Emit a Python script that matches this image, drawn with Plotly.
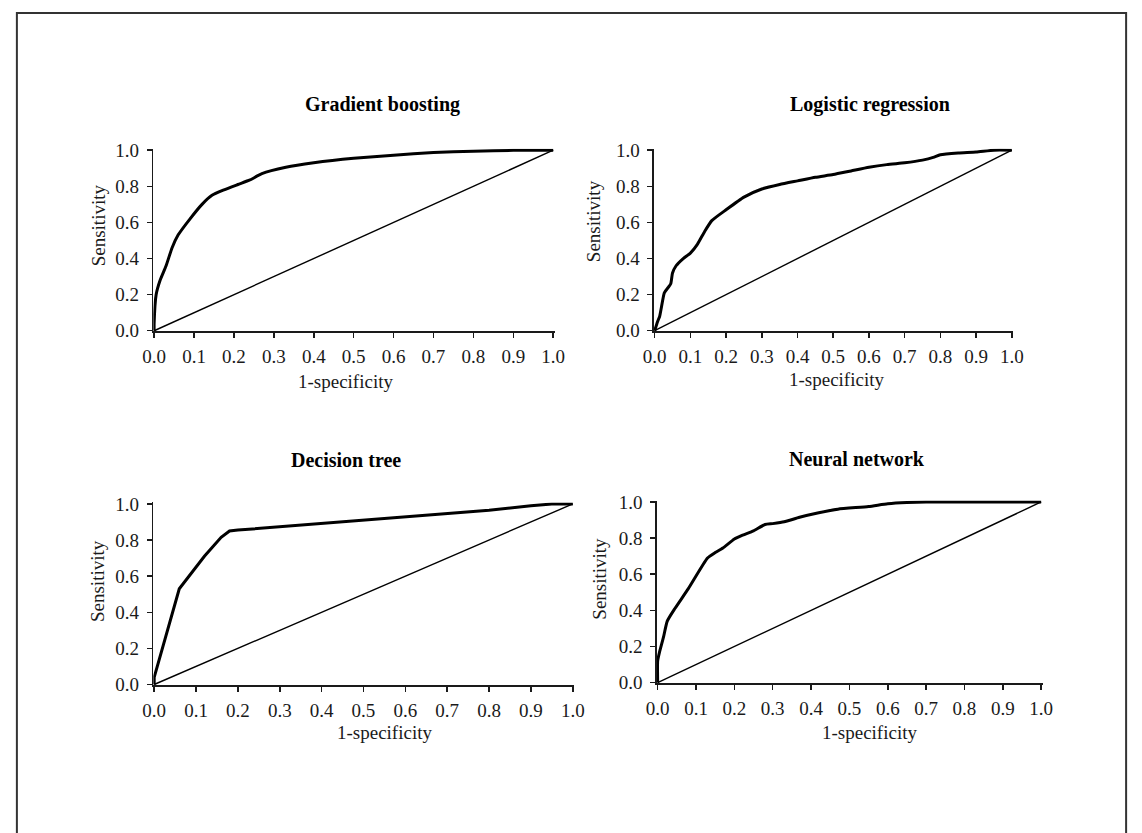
import plotly.graph_objects as go

# ---------------- data ----------------
gb_fpr = [0, 0, 0.005, 0.015, 0.03, 0.045, 0.06, 0.09, 0.12, 0.145, 0.175, 0.21, 0.24, 0.27, 0.33, 0.4, 0.5, 0.6, 0.7, 0.8, 0.9, 1.0]
gb_tpr = [0, 0.04, 0.2, 0.28, 0.36, 0.46, 0.53, 0.62, 0.70, 0.75, 0.78, 0.81, 0.835, 0.87, 0.905, 0.93, 0.955, 0.972, 0.987, 0.994, 0.999, 1.0]

lr_fpr = [0, 0.008, 0.014, 0.018, 0.027, 0.038, 0.045, 0.05, 0.06, 0.08, 0.1, 0.12, 0.14, 0.16, 0.2, 0.25, 0.3, 0.35, 0.4, 0.45, 0.5, 0.55, 0.6, 0.65, 0.7, 0.75, 0.78, 0.8, 0.85, 0.9, 0.95, 1.0]
lr_tpr = [0, 0.05, 0.08, 0.12, 0.21, 0.24, 0.26, 0.32, 0.36, 0.40, 0.43, 0.48, 0.55, 0.61, 0.67, 0.74, 0.785, 0.81, 0.83, 0.85, 0.865, 0.885, 0.905, 0.92, 0.93, 0.945, 0.96, 0.975, 0.985, 0.99, 1.0, 1.0]

dt_fpr = [0, 0, 0.06, 0.12, 0.16, 0.18, 0.2, 0.5, 0.8, 0.9, 0.95, 1.0]
dt_tpr = [0, 0.04, 0.53, 0.71, 0.815, 0.85, 0.855, 0.91, 0.965, 0.99, 1.0, 1.0]

nn_fpr = [0, 0, 0.005, 0.015, 0.025, 0.045, 0.08, 0.13, 0.15, 0.17, 0.2, 0.22, 0.25, 0.28, 0.3, 0.33, 0.37, 0.42, 0.47, 0.55, 0.6, 0.65, 0.7, 0.8, 0.9, 1.0]
nn_tpr = [0, 0.12, 0.17, 0.25, 0.34, 0.41, 0.52, 0.69, 0.72, 0.745, 0.795, 0.815, 0.84, 0.875, 0.88, 0.89, 0.915, 0.94, 0.96, 0.975, 0.99, 0.997, 1.0, 1.0, 1.0, 1.0]

ref_line = [0, 1]
titles = ["Gradient boosting", "Logistic regression", "Decision tree", "Neural network"]
x_title = "1-specificity"
y_title = "Sensitivity"
x_ticks = [0.0, 0.1, 0.2, 0.3, 0.4, 0.5, 0.6, 0.7, 0.8, 0.9, 1.0]
y_ticks = [0.0, 0.2, 0.4, 0.6, 0.8, 1.0]

# ---------------- layout helpers ----------------
W, H = 1142, 833
FONT = "Liberation Serif"
INK = "#1a1a1a"

def px_x(v):
    return v / W

def px_y(v):
    return 1 - v / H

# panel pixel boxes: (x0, x1, ytop, ybottom)
panels = [
    (145, 554, 143, 330),
    (655, 1021, 143, 330),
    (145, 574, 505, 692),
    (658, 1051, 503, 690),
]
series = [(gb_fpr, gb_tpr), (lr_fpr, lr_tpr), (dt_fpr, dt_tpr), (nn_fpr, nn_tpr)]
title_pos = [(378, 98), (875, 98), (341, 462), (862, 460)]
ylab_pos = [(90, 221), (593, 217), (88, 585), (600, 583)]
xlab_pos = [(341, 381), (841, 379), (380, 740), (875, 740)]

fig = go.Figure()
layout = dict(
    width=W, height=H, autosize=False,
    margin=dict(l=0, r=0, t=0, b=0),
    paper_bgcolor="white", plot_bgcolor="white",
    showlegend=False,
    font=dict(family=FONT, size=19, color=INK),
)

annotations = []
for i, ((x0, x1, yt, yb), (fx, fy)) in enumerate(zip(panels, series)):
    n = i + 1
    xa = "x" if n == 1 else f"x{n}"
    ya = "y" if n == 1 else f"y{n}"
    fig.add_trace(go.Scatter(x=ref_line, y=ref_line, mode="lines",
                             line=dict(color="black", width=1.4),
                             xaxis=xa, yaxis=ya, hoverinfo="skip"))
    shape = "linear" if i == 2 else "spline"
    fig.add_trace(go.Scatter(x=fx, y=fy, mode="lines",
                             line=dict(color="black", width=3, shape=shape, smoothing=0.5),
                             xaxis=xa, yaxis=ya))
    axkey_x = "xaxis" if n == 1 else f"xaxis{n}"
    axkey_y = "yaxis" if n == 1 else f"yaxis{n}"
    layout[axkey_x] = dict(
        domain=[px_x(x0), px_x(x1)], anchor=ya, range=[-0.002, 1.004],
        tickvals=x_ticks, ticktext=[f"{t:.1f}" for t in x_ticks],
        showline=True, linecolor=INK, linewidth=1.5, ticks="outside",
        ticklen=5, tickwidth=1.5, tickcolor=INK, showgrid=False, zeroline=False,
        tickfont=dict(family=FONT, size=19, color=INK), fixedrange=True,
        ticklabelstandoff=2,
    )
    layout[axkey_y] = dict(
        domain=[px_y(yb), px_y(yt)], anchor=xa, range=[-0.004, 1.008],
        tickvals=y_ticks, ticktext=[f"{t:.1f}" for t in y_ticks],
        showline=True, linecolor=INK, linewidth=1.5, ticks="outside",
        ticklen=5, tickwidth=1.5, tickcolor=INK, showgrid=False, zeroline=False,
        tickfont=dict(family=FONT, size=19, color=INK), fixedrange=True,
        ticklabelstandoff=4,
    )
    tx, ty = title_pos[i]
    annotations.append(dict(text=f"<b>{titles[i]}</b>", x=px_x(tx), y=px_y(ty),
                            xref="paper", yref="paper", showarrow=False,
                            xanchor="center", yanchor="middle",
                            font=dict(family=FONT, size=20, color="black")))
    lx, ly = ylab_pos[i]
    annotations.append(dict(text=y_title, x=px_x(lx), y=px_y(ly), textangle=-90,
                            xref="paper", yref="paper", showarrow=False,
                            xanchor="center", yanchor="middle",
                            font=dict(family=FONT, size=19, color=INK)))
    bx, by = xlab_pos[i]
    annotations.append(dict(text=x_title, x=px_x(bx), y=px_y(by),
                            xref="paper", yref="paper", showarrow=False,
                            xanchor="center", yanchor="middle",
                            font=dict(family=FONT, size=19, color=INK)))

layout["annotations"] = annotations
layout["shapes"] = [dict(type="rect", xref="paper", yref="paper",
                         x0=px_x(6), x1=px_x(1136), y0=px_y(845), y1=px_y(4),
                         line=dict(color="#333333", width=2), fillcolor="rgba(0,0,0,0)")]
fig.update_layout(**layout)
fig.write_html("out.html",
               config={"displayModeBar": False, "staticPlot": True},
               post_script="document.body.style.margin='0';document.body.style.overflow='hidden';")
